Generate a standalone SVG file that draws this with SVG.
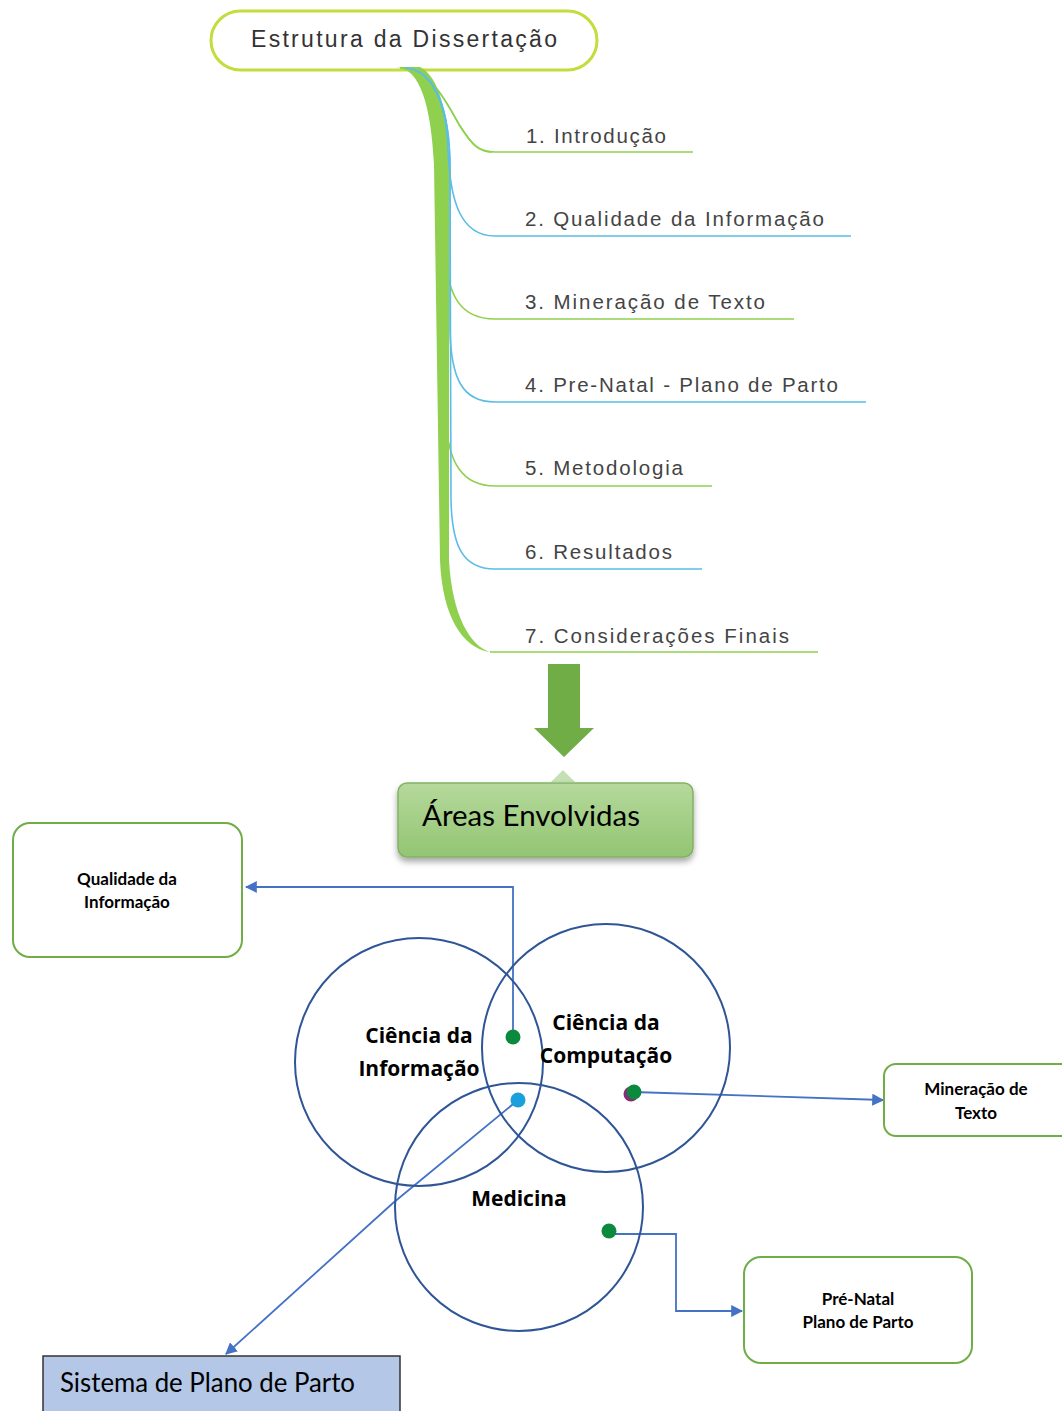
<svg xmlns="http://www.w3.org/2000/svg" width="1062" height="1411" viewBox="0 0 1062 1411">
<style>
.topic{font-family:"Liberation Sans",Arial,sans-serif;font-size:20.5px;fill:#444}
.gb{fill:none;stroke:#8fd14f;stroke-width:1.6}
.bb{fill:none;stroke:#5bbde6;stroke-width:1.6}
.circ{fill:none;stroke:#2f5597;stroke-width:2}
.clab{font-family:"Open Sans","DejaVu Sans",sans-serif;font-weight:bold;font-size:21px;fill:#000;text-anchor:middle}
.box{fill:#fff;stroke:#70ad47;stroke-width:2}
.blab{font-family:Lato,"Liberation Sans",sans-serif;font-weight:bold;font-size:17px;fill:#000;text-anchor:middle}
.conn{fill:none;stroke:#4472c4;stroke-width:1.8}
</style>
<defs>
<marker id="ah" viewBox="0 0 10 10" refX="9" refY="5" markerWidth="12" markerHeight="12" markerUnits="userSpaceOnUse" orient="auto">
<path d="M0,0 L10,5 L0,10 Z" fill="#4472c4"/>
</marker>
<linearGradient id="gg" x1="0" y1="0" x2="0" y2="1">
<stop offset="0" stop-color="#b5d99c"/>
<stop offset="1" stop-color="#93c572"/>
</linearGradient>
<filter id="sh" x="-10%" y="-10%" width="120%" height="140%">
<feDropShadow dx="0" dy="4" stdDeviation="3" flood-color="#000" flood-opacity="0.35"/>
</filter>
</defs>

<g id="title">
<rect x="211" y="11" width="386" height="59" rx="29.5" fill="#fff" stroke="#c3dd3c" stroke-width="3"/>
<text x="251" y="47" font-family="'Liberation Sans',Arial,sans-serif" font-size="23" fill="#333" textLength="306" lengthAdjust="spacing">Estrutura da Dissertação</text>
</g>

<g id="connectors">
<!-- trunk -->
<path d="M396,67 C420,68 431,105 434,165 L440,560 C442,615 462,648 490,652 C470,646 452,615 449,560 L449,165 C447,110 440,78 420,67 Z" fill="#8fd14f"/>
<!-- branches -->
<path class="gb" d="M400,68 C432,70 446,102 460,126 C472,145 479,152 495,152 L693,152" stroke-width="2"/>
<path class="gb" d="M400,68 C432,70 446,102 460,126 C472,145 479,152 492,152" stroke-width="5"/>
<path class="bb" d="M405,68 C435,70 447,110 448,150 C450,200 460,236 495,236 L851,236" stroke-width="2"/>
<path class="gb" d="M402,68 C432,70 444,110 444,160 L445,250 C447,295 460,319 495,319 L794,319"/>
<path class="bb" d="M405,68 C436,70 450,110 450,170 L450,330 C451,378 462,402 495,402 L866,402" stroke-width="2"/>
<path class="gb" d="M402,68 C432,70 444,110 444,160 L446,420 C448,462 462,486 495,486 L712,486"/>
<path class="bb" d="M405,68 C436,70 450,110 450,170 L451,500 C452,545 462,569 495,569 L702,569" stroke-width="2"/>
<path class="gb" d="M490,652 L818,652"/>

<!-- lower connectors -->
<path class="conn" d="M513,1037 L513,887 L246,887" marker-end="url(#ah)"/>
<path class="conn" d="M633,1092 L883,1100" marker-end="url(#ah)"/>
<path class="conn" d="M609,1234 L676,1234 L676,1311 L742,1311" marker-end="url(#ah)"/>
<path class="conn" d="M518,1100 L393,1203 L226,1354" marker-end="url(#ah)"/>
</g>

<g id="topic1"><text class="topic" x="526" y="143" textLength="140" lengthAdjust="spacing">1. Introdução</text></g>
<g id="topic2"><text class="topic" x="525" y="226" textLength="299" lengthAdjust="spacing">2. Qualidade da Informação</text></g>
<g id="topic3"><text class="topic" x="525" y="309" textLength="240" lengthAdjust="spacing">3. Mineração de Texto</text></g>
<g id="topic4"><text class="topic" x="525" y="392" textLength="313" lengthAdjust="spacing">4. Pre-Natal - Plano de Parto</text></g>
<g id="topic5"><text class="topic" x="525" y="475" textLength="158" lengthAdjust="spacing">5. Metodologia</text></g>
<g id="topic6"><text class="topic" x="525" y="559" textLength="147" lengthAdjust="spacing">6. Resultados</text></g>
<g id="topic7"><text class="topic" x="525" y="643" textLength="264" lengthAdjust="spacing">7. Considerações Finais</text></g>

<g id="big-arrow">
<path d="M548,664 L580,664 L580,728 L594,728 L564,757 L534,728 L548,728 Z" fill="#70ad47"/>
</g>

<g id="areas">
<path d="M551,782 L563,770 L575,782 Z" fill="#c5e0b4"/>
<rect x="398" y="783" width="295" height="74" rx="9" fill="url(#gg)" stroke="#82b366" stroke-width="1.5" filter="url(#sh)"/>
<text x="422" y="826" font-family="Lato,'Open Sans',sans-serif" font-size="29" fill="#000" textLength="218" lengthAdjust="spacingAndGlyphs">Áreas Envolvidas</text>
</g>

<g id="qualidade">
<rect class="box" x="13" y="823" width="229" height="134" rx="17"/>
<text class="blab" x="127" y="885">Qualidade da</text>
<text class="blab" x="127" y="908">Informação</text>
</g>

<g id="circle-ci">
<circle class="circ" cx="419" cy="1062" r="124"/>
<text class="clab" x="419" y="1043">Ciência da</text>
<text class="clab" x="419" y="1076">Informação</text>
</g>
<g id="circle-cc">
<circle class="circ" cx="606" cy="1048" r="124"/>
<text class="clab" x="606" y="1030">Ciência da</text>
<text class="clab" x="606" y="1063">Computação</text>
</g>
<g id="circle-med">
<circle class="circ" cx="519" cy="1207" r="124"/>
<text class="clab" x="519" y="1206">Medicina</text>
</g>

<g id="dots">
<circle cx="513" cy="1037" r="7.5" fill="#0b8a3e"/>
<circle cx="518" cy="1100" r="7.5" fill="#1aa0dc"/>
<circle cx="631" cy="1094" r="7.5" fill="#8b2a7a"/>
<circle cx="634" cy="1092" r="7.5" fill="#0b8a3e"/>
<circle cx="609" cy="1231" r="7.5" fill="#0b8a3e"/>
</g>

<g id="mineracao">
<rect class="box" x="884" y="1064" width="190" height="72" rx="12"/>
<text class="blab" x="976" y="1095">Mineração de</text>
<text class="blab" x="976" y="1119">Texto</text>
</g>

<g id="prenatal">
<rect class="box" x="744" y="1257" width="228" height="106" rx="17"/>
<text class="blab" x="858" y="1305">Pré-Natal</text>
<text class="blab" x="858" y="1328">Plano de Parto</text>
</g>

<g id="sistema">
<rect x="43" y="1356" width="357" height="70" fill="#b4c7e7" stroke="#333" stroke-width="1.5"/>
<text x="60" y="1392" font-family="Lato,'Open Sans',sans-serif" font-size="26" fill="#000" textLength="295" lengthAdjust="spacingAndGlyphs">Sistema de Plano de Parto</text>
</g>
</svg>
